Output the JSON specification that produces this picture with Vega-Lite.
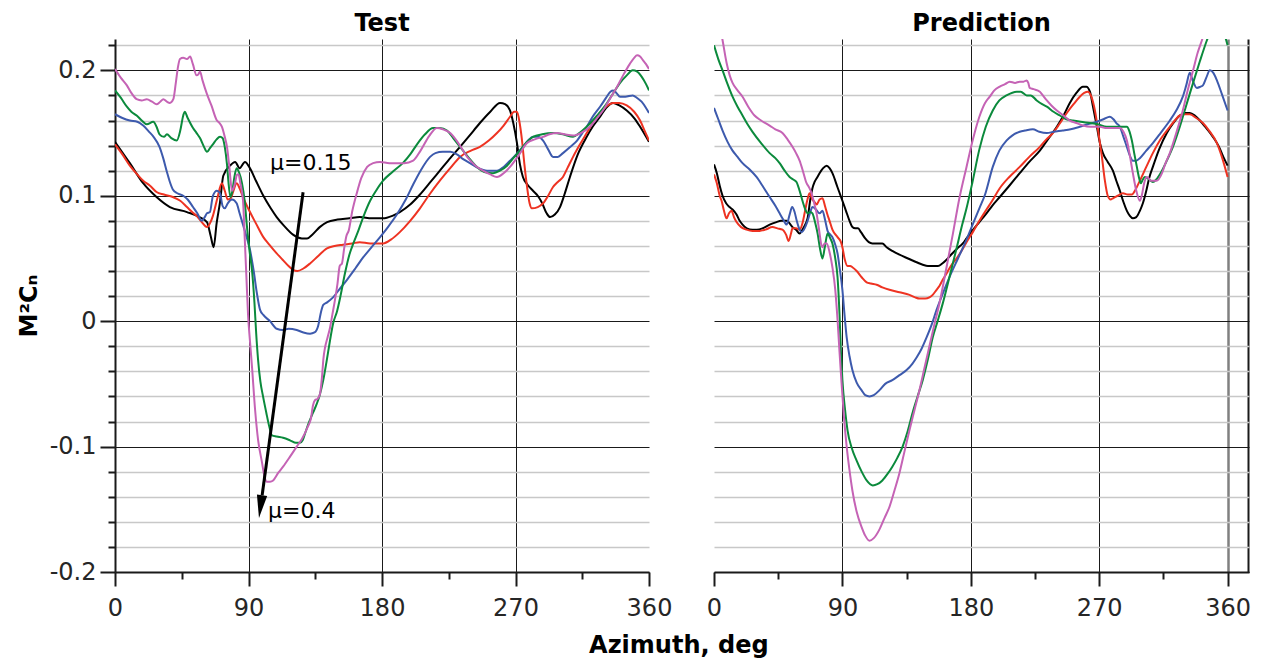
{
  "$schema": "https://vega.github.io/schema/vega-lite/v6.json",
  "padding": {"left": 17, "top": 12, "right": 10, "bottom": 4},
  "background": "white",
  "bounds": "flush",
  "spacing": 65,
  "config": {
    "font": "DejaVu Sans",
    "view": {"stroke": null},
    "axis": {"labelFont": "DejaVu Sans", "titleFont": "DejaVu Sans", "labelColor": "#262626", "labelFontSize": 24, "labelFontWeight": "normal", "tickColor": "#1a1a1a", "domainColor": "#1a1a1a", "tickWidth": 2, "domainWidth": 2, "labelOverlap": false, "labelBound": false},
    "title": {"font": "DejaVu Sans", "fontSize": 24, "fontWeight": "bold", "color": "black", "offset": 3, "frame": "group"}
  },
  "title": {"text": "Azimuth, deg", "orient": "bottom", "anchor": "middle", "offset": 14, "dx": 45, "frame": "bounds"},
  "datasets": {
    "test": [
      {"mu":"0.15","azimuth":0,"value":0.143},{"mu":"0.15","azimuth":10,"value":0.126},{"mu":"0.15","azimuth":19,"value":0.110},{"mu":"0.15","azimuth":28,"value":0.099},{"mu":"0.15","azimuth":37,"value":0.091},{"mu":"0.15","azimuth":48.5,"value":0.087},{"mu":"0.15","azimuth":57,"value":0.083},{"mu":"0.15","azimuth":62,"value":0.079},{"mu":"0.15","azimuth":64.5,"value":0.068},{"mu":"0.15","azimuth":66.5,"value":0.059},{"mu":"0.15","azimuth":68.5,"value":0.078},{"mu":"0.15","azimuth":70.8,"value":0.095},{"mu":"0.15","azimuth":73,"value":0.116},{"mu":"0.15","azimuth":77.5,"value":0.124},{"mu":"0.15","azimuth":81,"value":0.127},{"mu":"0.15","azimuth":84,"value":0.122},{"mu":"0.15","azimuth":87.6,"value":0.127},{"mu":"0.15","azimuth":91,"value":0.122},{"mu":"0.15","azimuth":95,"value":0.112},{"mu":"0.15","azimuth":100,"value":0.100},{"mu":"0.15","azimuth":105,"value":0.090},{"mu":"0.15","azimuth":109,"value":0.083},{"mu":"0.15","azimuth":114,"value":0.076},{"mu":"0.15","azimuth":120,"value":0.069},{"mu":"0.15","azimuth":126,"value":0.066},{"mu":"0.15","azimuth":129.5,"value":0.066},{"mu":"0.15","azimuth":133,"value":0.069},{"mu":"0.15","azimuth":138,"value":0.075},{"mu":"0.15","azimuth":143,"value":0.079},{"mu":"0.15","azimuth":150,"value":0.081},{"mu":"0.15","azimuth":158,"value":0.082},{"mu":"0.15","azimuth":165,"value":0.083},{"mu":"0.15","azimuth":173,"value":0.082},{"mu":"0.15","azimuth":180.7,"value":0.082},{"mu":"0.15","azimuth":187,"value":0.084},{"mu":"0.15","azimuth":192,"value":0.087},{"mu":"0.15","azimuth":199,"value":0.093},{"mu":"0.15","azimuth":205.6,"value":0.101},{"mu":"0.15","azimuth":212,"value":0.110},{"mu":"0.15","azimuth":219,"value":0.120},{"mu":"0.15","azimuth":226,"value":0.130},{"mu":"0.15","azimuth":232.6,"value":0.139},{"mu":"0.15","azimuth":239,"value":0.148},{"mu":"0.15","azimuth":246,"value":0.158},{"mu":"0.15","azimuth":253,"value":0.167},{"mu":"0.15","azimuth":259.6,"value":0.174},{"mu":"0.15","azimuth":263,"value":0.173},{"mu":"0.15","azimuth":266.3,"value":0.168},{"mu":"0.15","azimuth":268.5,"value":0.158},{"mu":"0.15","azimuth":271,"value":0.142},{"mu":"0.15","azimuth":273,"value":0.125},{"mu":"0.15","azimuth":275,"value":0.115},{"mu":"0.15","azimuth":278,"value":0.109},{"mu":"0.15","azimuth":281.8,"value":0.104},{"mu":"0.15","azimuth":285,"value":0.100},{"mu":"0.15","azimuth":288,"value":0.094},{"mu":"0.15","azimuth":291,"value":0.086},{"mu":"0.15","azimuth":293.3,"value":0.083},{"mu":"0.15","azimuth":296.5,"value":0.085},{"mu":"0.15","azimuth":300,"value":0.091},{"mu":"0.15","azimuth":303,"value":0.101},{"mu":"0.15","azimuth":306.7,"value":0.115},{"mu":"0.15","azimuth":312,"value":0.133},{"mu":"0.15","azimuth":318,"value":0.147},{"mu":"0.15","azimuth":322,"value":0.155},{"mu":"0.15","azimuth":327,"value":0.163},{"mu":"0.15","azimuth":331,"value":0.170},{"mu":"0.15","azimuth":335.8,"value":0.174},{"mu":"0.15","azimuth":340,"value":0.172},{"mu":"0.15","azimuth":345,"value":0.168},{"mu":"0.15","azimuth":350,"value":0.162},{"mu":"0.15","azimuth":354,"value":0.155},{"mu":"0.15","azimuth":360,"value":0.143},
      {"mu":"0.2","azimuth":0,"value":0.141},{"mu":"0.2","azimuth":5,"value":0.133},{"mu":"0.2","azimuth":10,"value":0.124},{"mu":"0.2","azimuth":15,"value":0.117},{"mu":"0.2","azimuth":19,"value":0.112},{"mu":"0.2","azimuth":23.6,"value":0.108},{"mu":"0.2","azimuth":28,"value":0.103},{"mu":"0.2","azimuth":33,"value":0.101},{"mu":"0.2","azimuth":39,"value":0.099},{"mu":"0.2","azimuth":44,"value":0.096},{"mu":"0.2","azimuth":48.5,"value":0.091},{"mu":"0.2","azimuth":52,"value":0.087},{"mu":"0.2","azimuth":55,"value":0.084},{"mu":"0.2","azimuth":58.5,"value":0.079},{"mu":"0.2","azimuth":62,"value":0.075},{"mu":"0.2","azimuth":64,"value":0.078},{"mu":"0.2","azimuth":66,"value":0.084},{"mu":"0.2","azimuth":69,"value":0.098},{"mu":"0.2","azimuth":72,"value":0.110},{"mu":"0.2","azimuth":74,"value":0.104},{"mu":"0.2","azimuth":76,"value":0.097},{"mu":"0.2","azimuth":78,"value":0.098},{"mu":"0.2","azimuth":79.6,"value":0.103},{"mu":"0.2","azimuth":82,"value":0.110},{"mu":"0.2","azimuth":84,"value":0.106},{"mu":"0.2","azimuth":86.3,"value":0.099},{"mu":"0.2","azimuth":91,"value":0.087},{"mu":"0.2","azimuth":95,"value":0.078},{"mu":"0.2","azimuth":100,"value":0.067},{"mu":"0.2","azimuth":104,"value":0.061},{"mu":"0.2","azimuth":109,"value":0.054},{"mu":"0.2","azimuth":113,"value":0.049},{"mu":"0.2","azimuth":117,"value":0.044},{"mu":"0.2","azimuth":120,"value":0.041},{"mu":"0.2","azimuth":123,"value":0.040},{"mu":"0.2","azimuth":127,"value":0.042},{"mu":"0.2","azimuth":131.5,"value":0.046},{"mu":"0.2","azimuth":137,"value":0.052},{"mu":"0.2","azimuth":142.9,"value":0.058},{"mu":"0.2","azimuth":148,"value":0.060},{"mu":"0.2","azimuth":153.7,"value":0.061},{"mu":"0.2","azimuth":160,"value":0.062},{"mu":"0.2","azimuth":165,"value":0.063},{"mu":"0.2","azimuth":172,"value":0.062},{"mu":"0.2","azimuth":180.7,"value":0.062},{"mu":"0.2","azimuth":186,"value":0.065},{"mu":"0.2","azimuth":192,"value":0.071},{"mu":"0.2","azimuth":199,"value":0.080},{"mu":"0.2","azimuth":205.6,"value":0.090},{"mu":"0.2","azimuth":212,"value":0.101},{"mu":"0.2","azimuth":219,"value":0.112},{"mu":"0.2","azimuth":226,"value":0.122},{"mu":"0.2","azimuth":232.6,"value":0.131},{"mu":"0.2","azimuth":240,"value":0.136},{"mu":"0.2","azimuth":246,"value":0.139},{"mu":"0.2","azimuth":252,"value":0.144},{"mu":"0.2","azimuth":257.5,"value":0.150},{"mu":"0.2","azimuth":262,"value":0.156},{"mu":"0.2","azimuth":266.3,"value":0.163},{"mu":"0.2","azimuth":269,"value":0.167},{"mu":"0.2","azimuth":271,"value":0.167},{"mu":"0.2","azimuth":272.8,"value":0.158},{"mu":"0.2","azimuth":274.4,"value":0.144},{"mu":"0.2","azimuth":276,"value":0.125},{"mu":"0.2","azimuth":277.8,"value":0.107},{"mu":"0.2","azimuth":279.5,"value":0.094},{"mu":"0.2","azimuth":281,"value":0.090},{"mu":"0.2","azimuth":285,"value":0.091},{"mu":"0.2","azimuth":288.6,"value":0.094},{"mu":"0.2","azimuth":292,"value":0.100},{"mu":"0.2","azimuth":295.3,"value":0.107},{"mu":"0.2","azimuth":298.5,"value":0.111},{"mu":"0.2","azimuth":302,"value":0.115},{"mu":"0.2","azimuth":305,"value":0.122},{"mu":"0.2","azimuth":308.8,"value":0.131},{"mu":"0.2","azimuth":313,"value":0.140},{"mu":"0.2","azimuth":318,"value":0.150},{"mu":"0.2","azimuth":322,"value":0.158},{"mu":"0.2","azimuth":327,"value":0.166},{"mu":"0.2","azimuth":331,"value":0.171},{"mu":"0.2","azimuth":335.8,"value":0.174},{"mu":"0.2","azimuth":340,"value":0.174},{"mu":"0.2","azimuth":345,"value":0.172},{"mu":"0.2","azimuth":350,"value":0.167},{"mu":"0.2","azimuth":354,"value":0.160},{"mu":"0.2","azimuth":357,"value":0.152},{"mu":"0.2","azimuth":360,"value":0.144},
      {"mu":"0.25","azimuth":0,"value":0.165},{"mu":"0.25","azimuth":5,"value":0.162},{"mu":"0.25","azimuth":10,"value":0.160},{"mu":"0.25","azimuth":15,"value":0.159},{"mu":"0.25","azimuth":19,"value":0.156},{"mu":"0.25","azimuth":23,"value":0.151},{"mu":"0.25","azimuth":26,"value":0.147},{"mu":"0.25","azimuth":30,"value":0.139},{"mu":"0.25","azimuth":32.5,"value":0.130},{"mu":"0.25","azimuth":35,"value":0.119},{"mu":"0.25","azimuth":37,"value":0.111},{"mu":"0.25","azimuth":39,"value":0.105},{"mu":"0.25","azimuth":42,"value":0.102},{"mu":"0.25","azimuth":46,"value":0.100},{"mu":"0.25","azimuth":49,"value":0.097},{"mu":"0.25","azimuth":52.6,"value":0.091},{"mu":"0.25","azimuth":55.5,"value":0.086},{"mu":"0.25","azimuth":58.5,"value":0.080},{"mu":"0.25","azimuth":60.5,"value":0.083},{"mu":"0.25","azimuth":62,"value":0.086},{"mu":"0.25","azimuth":64,"value":0.087},{"mu":"0.25","azimuth":66,"value":0.100},{"mu":"0.25","azimuth":68.7,"value":0.104},{"mu":"0.25","azimuth":70.8,"value":0.102},{"mu":"0.25","azimuth":72.5,"value":0.092},{"mu":"0.25","azimuth":74,"value":0.090},{"mu":"0.25","azimuth":76,"value":0.094},{"mu":"0.25","azimuth":78.9,"value":0.097},{"mu":"0.25","azimuth":82,"value":0.094},{"mu":"0.25","azimuth":84,"value":0.086},{"mu":"0.25","azimuth":86.3,"value":0.077},{"mu":"0.25","azimuth":88.5,"value":0.068},{"mu":"0.25","azimuth":91,"value":0.057},{"mu":"0.25","azimuth":93.5,"value":0.040},{"mu":"0.25","azimuth":95.7,"value":0.022},{"mu":"0.25","azimuth":97.8,"value":0.009},{"mu":"0.25","azimuth":100,"value":0.005},{"mu":"0.25","azimuth":104.5,"value":0.000},{"mu":"0.25","azimuth":109,"value":-0.006},{"mu":"0.25","azimuth":113.3,"value":-0.007},{"mu":"0.25","azimuth":117,"value":-0.006},{"mu":"0.25","azimuth":122.5,"value":-0.007},{"mu":"0.25","azimuth":127,"value":-0.009},{"mu":"0.25","azimuth":131.5,"value":-0.010},{"mu":"0.25","azimuth":134.5,"value":-0.009},{"mu":"0.25","azimuth":136.9,"value":-0.004},{"mu":"0.25","azimuth":139,"value":0.008},{"mu":"0.25","azimuth":140.4,"value":0.013},{"mu":"0.25","azimuth":143,"value":0.015},{"mu":"0.25","azimuth":147,"value":0.019},{"mu":"0.25","azimuth":151,"value":0.025},{"mu":"0.25","azimuth":156.4,"value":0.033},{"mu":"0.25","azimuth":162,"value":0.042},{"mu":"0.25","azimuth":167.4,"value":0.051},{"mu":"0.25","azimuth":173,"value":0.059},{"mu":"0.25","azimuth":178.7,"value":0.067},{"mu":"0.25","azimuth":184,"value":0.075},{"mu":"0.25","azimuth":190,"value":0.085},{"mu":"0.25","azimuth":196,"value":0.097},{"mu":"0.25","azimuth":201,"value":0.109},{"mu":"0.25","azimuth":206,"value":0.120},{"mu":"0.25","azimuth":212.4,"value":0.131},{"mu":"0.25","azimuth":216,"value":0.134},{"mu":"0.25","azimuth":221,"value":0.135},{"mu":"0.25","azimuth":226,"value":0.135},{"mu":"0.25","azimuth":230.5,"value":0.133},{"mu":"0.25","azimuth":235,"value":0.129},{"mu":"0.25","azimuth":239.3,"value":0.126},{"mu":"0.25","azimuth":245,"value":0.122},{"mu":"0.25","azimuth":250.8,"value":0.120},{"mu":"0.25","azimuth":257.5,"value":0.120},{"mu":"0.25","azimuth":262,"value":0.123},{"mu":"0.25","azimuth":266.3,"value":0.128},{"mu":"0.25","azimuth":270.5,"value":0.133},{"mu":"0.25","azimuth":275,"value":0.139},{"mu":"0.25","azimuth":278.5,"value":0.144},{"mu":"0.25","azimuth":281.8,"value":0.147},{"mu":"0.25","azimuth":285,"value":0.147},{"mu":"0.25","azimuth":288.6,"value":0.144},{"mu":"0.25","azimuth":292,"value":0.137},{"mu":"0.25","azimuth":295.3,"value":0.131},{"mu":"0.25","azimuth":298.5,"value":0.131},{"mu":"0.25","azimuth":302,"value":0.134},{"mu":"0.25","azimuth":307,"value":0.139},{"mu":"0.25","azimuth":311.5,"value":0.144},{"mu":"0.25","azimuth":315,"value":0.150},{"mu":"0.25","azimuth":318,"value":0.155},{"mu":"0.25","azimuth":322,"value":0.163},{"mu":"0.25","azimuth":327,"value":0.171},{"mu":"0.25","azimuth":331,"value":0.178},{"mu":"0.25","azimuth":334,"value":0.183},{"mu":"0.25","azimuth":335.8,"value":0.184},{"mu":"0.25","azimuth":338,"value":0.182},{"mu":"0.25","azimuth":340.5,"value":0.179},{"mu":"0.25","azimuth":344,"value":0.179},{"mu":"0.25","azimuth":349,"value":0.180},{"mu":"0.25","azimuth":352,"value":0.178},{"mu":"0.25","azimuth":355,"value":0.175},{"mu":"0.25","azimuth":358,"value":0.170},{"mu":"0.25","azimuth":360,"value":0.166},
      {"mu":"0.3","azimuth":0,"value":0.184},{"mu":"0.3","azimuth":4,"value":0.178},{"mu":"0.3","azimuth":8,"value":0.171},{"mu":"0.3","azimuth":11,"value":0.167},{"mu":"0.3","azimuth":14.6,"value":0.164},{"mu":"0.3","azimuth":18,"value":0.160},{"mu":"0.3","azimuth":21.4,"value":0.157},{"mu":"0.3","azimuth":25.8,"value":0.159},{"mu":"0.3","azimuth":28,"value":0.155},{"mu":"0.3","azimuth":30,"value":0.149},{"mu":"0.3","azimuth":33,"value":0.147},{"mu":"0.3","azimuth":35,"value":0.149},{"mu":"0.3","azimuth":38,"value":0.146},{"mu":"0.3","azimuth":41.6,"value":0.144},{"mu":"0.3","azimuth":44,"value":0.152},{"mu":"0.3","azimuth":46,"value":0.164},{"mu":"0.3","azimuth":47,"value":0.167},{"mu":"0.3","azimuth":49,"value":0.162},{"mu":"0.3","azimuth":52.6,"value":0.154},{"mu":"0.3","azimuth":55,"value":0.150},{"mu":"0.3","azimuth":57.3,"value":0.146},{"mu":"0.3","azimuth":60,"value":0.139},{"mu":"0.3","azimuth":62,"value":0.135},{"mu":"0.3","azimuth":64,"value":0.138},{"mu":"0.3","azimuth":66,"value":0.141},{"mu":"0.3","azimuth":68.5,"value":0.145},{"mu":"0.3","azimuth":70.8,"value":0.147},{"mu":"0.3","azimuth":72.5,"value":0.146},{"mu":"0.3","azimuth":74,"value":0.139},{"mu":"0.3","azimuth":75.5,"value":0.125},{"mu":"0.3","azimuth":76.4,"value":0.112},{"mu":"0.3","azimuth":77.8,"value":0.099},{"mu":"0.3","azimuth":79,"value":0.103},{"mu":"0.3","azimuth":80.5,"value":0.115},{"mu":"0.3","azimuth":82,"value":0.122},{"mu":"0.3","azimuth":83.5,"value":0.119},{"mu":"0.3","azimuth":85.6,"value":0.110},{"mu":"0.3","azimuth":87.5,"value":0.095},{"mu":"0.3","azimuth":89,"value":0.075},{"mu":"0.3","azimuth":90.8,"value":0.055},{"mu":"0.3","azimuth":92.4,"value":0.040},{"mu":"0.3","azimuth":94,"value":0.015},{"mu":"0.3","azimuth":95.2,"value":-0.010},{"mu":"0.3","azimuth":96.4,"value":-0.030},{"mu":"0.3","azimuth":98,"value":-0.048},{"mu":"0.3","azimuth":99.8,"value":-0.060},{"mu":"0.3","azimuth":102,"value":-0.073},{"mu":"0.3","azimuth":104,"value":-0.084},{"mu":"0.3","azimuth":105.8,"value":-0.091},{"mu":"0.3","azimuth":109,"value":-0.092},{"mu":"0.3","azimuth":113.3,"value":-0.093},{"mu":"0.3","azimuth":118,"value":-0.095},{"mu":"0.3","azimuth":122,"value":-0.097},{"mu":"0.3","azimuth":124.7,"value":-0.097},{"mu":"0.3","azimuth":126.5,"value":-0.095},{"mu":"0.3","azimuth":128,"value":-0.090},{"mu":"0.3","azimuth":130,"value":-0.083},{"mu":"0.3","azimuth":133.5,"value":-0.073},{"mu":"0.3","azimuth":136,"value":-0.066},{"mu":"0.3","azimuth":138,"value":-0.059},{"mu":"0.3","azimuth":140.4,"value":-0.047},{"mu":"0.3","azimuth":142.5,"value":-0.033},{"mu":"0.3","azimuth":145,"value":-0.015},{"mu":"0.3","azimuth":147,"value":-0.002},{"mu":"0.3","azimuth":149.7,"value":0.008},{"mu":"0.3","azimuth":152,"value":0.020},{"mu":"0.3","azimuth":155,"value":0.038},{"mu":"0.3","azimuth":158,"value":0.053},{"mu":"0.3","azimuth":161,"value":0.063},{"mu":"0.3","azimuth":164,"value":0.072},{"mu":"0.3","azimuth":168,"value":0.085},{"mu":"0.3","azimuth":172,"value":0.096},{"mu":"0.3","azimuth":176,"value":0.104},{"mu":"0.3","azimuth":180.7,"value":0.112},{"mu":"0.3","azimuth":187,"value":0.119},{"mu":"0.3","azimuth":194,"value":0.126},{"mu":"0.3","azimuth":199,"value":0.133},{"mu":"0.3","azimuth":203.6,"value":0.141},{"mu":"0.3","azimuth":209,"value":0.149},{"mu":"0.3","azimuth":214.4,"value":0.154},{"mu":"0.3","azimuth":219,"value":0.154},{"mu":"0.3","azimuth":223.8,"value":0.152},{"mu":"0.3","azimuth":228,"value":0.146},{"mu":"0.3","azimuth":232.6,"value":0.139},{"mu":"0.3","azimuth":238,"value":0.131},{"mu":"0.3","azimuth":244,"value":0.123},{"mu":"0.3","azimuth":249,"value":0.119},{"mu":"0.3","azimuth":254.9,"value":0.118},{"mu":"0.3","azimuth":259.5,"value":0.120},{"mu":"0.3","azimuth":264.3,"value":0.124},{"mu":"0.3","azimuth":268.5,"value":0.130},{"mu":"0.3","azimuth":273,"value":0.136},{"mu":"0.3","azimuth":277,"value":0.142},{"mu":"0.3","azimuth":281.8,"value":0.147},{"mu":"0.3","azimuth":288,"value":0.149},{"mu":"0.3","azimuth":295.3,"value":0.150},{"mu":"0.3","azimuth":302,"value":0.149},{"mu":"0.3","azimuth":308.8,"value":0.147},{"mu":"0.3","azimuth":313,"value":0.150},{"mu":"0.3","azimuth":318,"value":0.155},{"mu":"0.3","azimuth":325,"value":0.164},{"mu":"0.3","azimuth":331.7,"value":0.174},{"mu":"0.3","azimuth":336,"value":0.182},{"mu":"0.3","azimuth":340.5,"value":0.190},{"mu":"0.3","azimuth":345,"value":0.196},{"mu":"0.3","azimuth":349,"value":0.200},{"mu":"0.3","azimuth":352,"value":0.199},{"mu":"0.3","azimuth":355,"value":0.195},{"mu":"0.3","azimuth":358,"value":0.189},{"mu":"0.3","azimuth":360,"value":0.184},
      {"mu":"0.4","azimuth":0,"value":0.201},{"mu":"0.4","azimuth":4,"value":0.194},{"mu":"0.4","azimuth":8,"value":0.188},{"mu":"0.4","azimuth":11,"value":0.182},{"mu":"0.4","azimuth":14.6,"value":0.177},{"mu":"0.4","azimuth":18,"value":0.176},{"mu":"0.4","azimuth":21.4,"value":0.177},{"mu":"0.4","azimuth":25,"value":0.175},{"mu":"0.4","azimuth":28,"value":0.173},{"mu":"0.4","azimuth":30.5,"value":0.175},{"mu":"0.4","azimuth":32.6,"value":0.177},{"mu":"0.4","azimuth":35,"value":0.175},{"mu":"0.4","azimuth":37,"value":0.174},{"mu":"0.4","azimuth":39.3,"value":0.177},{"mu":"0.4","azimuth":41,"value":0.190},{"mu":"0.4","azimuth":42.5,"value":0.203},{"mu":"0.4","azimuth":43.8,"value":0.209},{"mu":"0.4","azimuth":46,"value":0.210},{"mu":"0.4","azimuth":48.5,"value":0.209},{"mu":"0.4","azimuth":50.6,"value":0.211},{"mu":"0.4","azimuth":52.5,"value":0.205},{"mu":"0.4","azimuth":55,"value":0.196},{"mu":"0.4","azimuth":56.3,"value":0.197},{"mu":"0.4","azimuth":57.3,"value":0.199},{"mu":"0.4","azimuth":59,"value":0.192},{"mu":"0.4","azimuth":62,"value":0.181},{"mu":"0.4","azimuth":65,"value":0.172},{"mu":"0.4","azimuth":68.7,"value":0.160},{"mu":"0.4","azimuth":70.5,"value":0.158},{"mu":"0.4","azimuth":72.1,"value":0.155},{"mu":"0.4","azimuth":74,"value":0.147},{"mu":"0.4","azimuth":75.5,"value":0.139},{"mu":"0.4","azimuth":77,"value":0.124},{"mu":"0.4","azimuth":78.9,"value":0.104},{"mu":"0.4","azimuth":80.9,"value":0.110},{"mu":"0.4","azimuth":82.3,"value":0.117},{"mu":"0.4","azimuth":83.3,"value":0.117},{"mu":"0.4","azimuth":84.5,"value":0.110},{"mu":"0.4","azimuth":86.3,"value":0.096},{"mu":"0.4","azimuth":87.5,"value":0.065},{"mu":"0.4","azimuth":88.6,"value":0.035},{"mu":"0.4","azimuth":89.7,"value":0.005},{"mu":"0.4","azimuth":91,"value":-0.016},{"mu":"0.4","azimuth":92.4,"value":-0.037},{"mu":"0.4","azimuth":94.4,"value":-0.070},{"mu":"0.4","azimuth":96.5,"value":-0.095},{"mu":"0.4","azimuth":99,"value":-0.112},{"mu":"0.4","azimuth":100.8,"value":-0.124},{"mu":"0.4","azimuth":102.4,"value":-0.128},{"mu":"0.4","azimuth":104.5,"value":-0.128},{"mu":"0.4","azimuth":106.6,"value":-0.127},{"mu":"0.4","azimuth":110,"value":-0.121},{"mu":"0.4","azimuth":113.3,"value":-0.116},{"mu":"0.4","azimuth":118,"value":-0.108},{"mu":"0.4","azimuth":122.5,"value":-0.100},{"mu":"0.4","azimuth":126,"value":-0.094},{"mu":"0.4","azimuth":130,"value":-0.084},{"mu":"0.4","azimuth":132,"value":-0.078},{"mu":"0.4","azimuth":133.5,"value":-0.067},{"mu":"0.4","azimuth":134.8,"value":-0.063},{"mu":"0.4","azimuth":136.5,"value":-0.062},{"mu":"0.4","azimuth":138.2,"value":-0.058},{"mu":"0.4","azimuth":139.5,"value":-0.045},{"mu":"0.4","azimuth":140.5,"value":-0.030},{"mu":"0.4","azimuth":141.6,"value":-0.021},{"mu":"0.4","azimuth":143.3,"value":-0.013},{"mu":"0.4","azimuth":145,"value":-0.005},{"mu":"0.4","azimuth":146.5,"value":0.005},{"mu":"0.4","azimuth":148.3,"value":0.017},{"mu":"0.4","azimuth":150,"value":0.030},{"mu":"0.4","azimuth":151.5,"value":0.044},{"mu":"0.4","azimuth":153,"value":0.046},{"mu":"0.4","azimuth":154.5,"value":0.058},{"mu":"0.4","azimuth":156,"value":0.068},{"mu":"0.4","azimuth":157.5,"value":0.072},{"mu":"0.4","azimuth":160,"value":0.088},{"mu":"0.4","azimuth":163,"value":0.102},{"mu":"0.4","azimuth":166,"value":0.114},{"mu":"0.4","azimuth":170,"value":0.123},{"mu":"0.4","azimuth":174,"value":0.126},{"mu":"0.4","azimuth":178.7,"value":0.127},{"mu":"0.4","azimuth":185,"value":0.126},{"mu":"0.4","azimuth":190,"value":0.126},{"mu":"0.4","azimuth":195,"value":0.126},{"mu":"0.4","azimuth":201,"value":0.128},{"mu":"0.4","azimuth":206,"value":0.136},{"mu":"0.4","azimuth":212,"value":0.148},{"mu":"0.4","azimuth":217,"value":0.154},{"mu":"0.4","azimuth":221,"value":0.153},{"mu":"0.4","azimuth":226,"value":0.150},{"mu":"0.4","azimuth":232,"value":0.141},{"mu":"0.4","azimuth":237.4,"value":0.131},{"mu":"0.4","azimuth":243,"value":0.124},{"mu":"0.4","azimuth":248.1,"value":0.120},{"mu":"0.4","azimuth":253,"value":0.117},{"mu":"0.4","azimuth":257.5,"value":0.115},{"mu":"0.4","azimuth":262,"value":0.118},{"mu":"0.4","azimuth":266.3,"value":0.123},{"mu":"0.4","azimuth":272,"value":0.132},{"mu":"0.4","azimuth":277.8,"value":0.142},{"mu":"0.4","azimuth":283,"value":0.145},{"mu":"0.4","azimuth":288.6,"value":0.147},{"mu":"0.4","azimuth":293,"value":0.149},{"mu":"0.4","azimuth":298,"value":0.150},{"mu":"0.4","azimuth":303,"value":0.149},{"mu":"0.4","azimuth":308.8,"value":0.148},{"mu":"0.4","azimuth":314,"value":0.150},{"mu":"0.4","azimuth":320.2,"value":0.155},{"mu":"0.4","azimuth":325,"value":0.162},{"mu":"0.4","azimuth":329,"value":0.168},{"mu":"0.4","azimuth":334,"value":0.178},{"mu":"0.4","azimuth":338.5,"value":0.187},{"mu":"0.4","azimuth":343,"value":0.197},{"mu":"0.4","azimuth":347,"value":0.205},{"mu":"0.4","azimuth":350,"value":0.210},{"mu":"0.4","azimuth":352,"value":0.212},{"mu":"0.4","azimuth":354,"value":0.211},{"mu":"0.4","azimuth":356,"value":0.208},{"mu":"0.4","azimuth":358,"value":0.205},{"mu":"0.4","azimuth":360,"value":0.201}
    ],
    "prediction": [
      {"mu":"0.15","azimuth":0,"value":0.125},{"mu":"0.15","azimuth":2,"value":0.118},{"mu":"0.15","azimuth":4,"value":0.108},{"mu":"0.15","azimuth":6,"value":0.100},{"mu":"0.15","azimuth":8.5,"value":0.094},{"mu":"0.15","azimuth":10.9,"value":0.091},{"mu":"0.15","azimuth":13,"value":0.089},{"mu":"0.15","azimuth":15.8,"value":0.085},{"mu":"0.15","azimuth":18,"value":0.080},{"mu":"0.15","azimuth":20,"value":0.077},{"mu":"0.15","azimuth":23,"value":0.074},{"mu":"0.15","azimuth":27,"value":0.073},{"mu":"0.15","azimuth":30,"value":0.073},{"mu":"0.15","azimuth":34,"value":0.074},{"mu":"0.15","azimuth":39,"value":0.077},{"mu":"0.15","azimuth":43.8,"value":0.079},{"mu":"0.15","azimuth":47,"value":0.080},{"mu":"0.15","azimuth":50.9,"value":0.080},{"mu":"0.15","azimuth":53,"value":0.078},{"mu":"0.15","azimuth":55,"value":0.075},{"mu":"0.15","azimuth":57.5,"value":0.073},{"mu":"0.15","azimuth":60,"value":0.070},{"mu":"0.15","azimuth":62.5,"value":0.074},{"mu":"0.15","azimuth":65.6,"value":0.082},{"mu":"0.15","azimuth":67.5,"value":0.097},{"mu":"0.15","azimuth":69,"value":0.106},{"mu":"0.15","azimuth":70.5,"value":0.111},{"mu":"0.15","azimuth":72.5,"value":0.115},{"mu":"0.15","azimuth":74,"value":0.118},{"mu":"0.15","azimuth":76.5,"value":0.122},{"mu":"0.15","azimuth":79,"value":0.124},{"mu":"0.15","azimuth":81,"value":0.122},{"mu":"0.15","azimuth":83,"value":0.118},{"mu":"0.15","azimuth":86.5,"value":0.107},{"mu":"0.15","azimuth":90,"value":0.096},{"mu":"0.15","azimuth":92.5,"value":0.088},{"mu":"0.15","azimuth":95,"value":0.080},{"mu":"0.15","azimuth":97,"value":0.075},{"mu":"0.15","azimuth":99,"value":0.074},{"mu":"0.15","azimuth":101,"value":0.074},{"mu":"0.15","azimuth":103,"value":0.071},{"mu":"0.15","azimuth":106,"value":0.066},{"mu":"0.15","azimuth":108.5,"value":0.063},{"mu":"0.15","azimuth":111,"value":0.062},{"mu":"0.15","azimuth":115,"value":0.062},{"mu":"0.15","azimuth":118,"value":0.062},{"mu":"0.15","azimuth":121,"value":0.059},{"mu":"0.15","azimuth":125,"value":0.056},{"mu":"0.15","azimuth":130,"value":0.053},{"mu":"0.15","azimuth":136,"value":0.050},{"mu":"0.15","azimuth":142,"value":0.047},{"mu":"0.15","azimuth":146.3,"value":0.045},{"mu":"0.15","azimuth":150,"value":0.044},{"mu":"0.15","azimuth":154,"value":0.044},{"mu":"0.15","azimuth":157,"value":0.044},{"mu":"0.15","azimuth":160,"value":0.046},{"mu":"0.15","azimuth":163,"value":0.049},{"mu":"0.15","azimuth":167,"value":0.054},{"mu":"0.15","azimuth":170.5,"value":0.058},{"mu":"0.15","azimuth":174.4,"value":0.062},{"mu":"0.15","azimuth":177,"value":0.066},{"mu":"0.15","azimuth":181,"value":0.072},{"mu":"0.15","azimuth":186,"value":0.079},{"mu":"0.15","azimuth":191,"value":0.086},{"mu":"0.15","azimuth":195,"value":0.092},{"mu":"0.15","azimuth":200.3,"value":0.099},{"mu":"0.15","azimuth":207,"value":0.108},{"mu":"0.15","azimuth":214.3,"value":0.118},{"mu":"0.15","azimuth":221,"value":0.127},{"mu":"0.15","azimuth":228.4,"value":0.136},{"mu":"0.15","azimuth":234,"value":0.145},{"mu":"0.15","azimuth":240.3,"value":0.155},{"mu":"0.15","azimuth":245,"value":0.164},{"mu":"0.15","azimuth":249.4,"value":0.174},{"mu":"0.15","azimuth":254,"value":0.182},{"mu":"0.15","azimuth":258.6,"value":0.187},{"mu":"0.15","azimuth":261,"value":0.187},{"mu":"0.15","azimuth":263.5,"value":0.183},{"mu":"0.15","azimuth":265.5,"value":0.172},{"mu":"0.15","azimuth":268.4,"value":0.155},{"mu":"0.15","azimuth":270.5,"value":0.142},{"mu":"0.15","azimuth":272.6,"value":0.134},{"mu":"0.15","azimuth":276,"value":0.127},{"mu":"0.15","azimuth":279.6,"value":0.120},{"mu":"0.15","azimuth":282,"value":0.112},{"mu":"0.15","azimuth":284.5,"value":0.104},{"mu":"0.15","azimuth":287,"value":0.095},{"mu":"0.15","azimuth":289.4,"value":0.088},{"mu":"0.15","azimuth":291.5,"value":0.084},{"mu":"0.15","azimuth":293.6,"value":0.082},{"mu":"0.15","azimuth":296,"value":0.083},{"mu":"0.15","azimuth":298.5,"value":0.088},{"mu":"0.15","azimuth":300.6,"value":0.094},{"mu":"0.15","azimuth":303,"value":0.104},{"mu":"0.15","azimuth":305,"value":0.114},{"mu":"0.15","azimuth":307.6,"value":0.123},{"mu":"0.15","azimuth":312,"value":0.137},{"mu":"0.15","azimuth":317.4,"value":0.150},{"mu":"0.15","azimuth":322,"value":0.158},{"mu":"0.15","azimuth":326.5,"value":0.164},{"mu":"0.15","azimuth":330,"value":0.166},{"mu":"0.15","azimuth":333.5,"value":0.166},{"mu":"0.15","azimuth":337,"value":0.164},{"mu":"0.15","azimuth":340.6,"value":0.160},{"mu":"0.15","azimuth":345,"value":0.154},{"mu":"0.15","azimuth":349.7,"value":0.147},{"mu":"0.15","azimuth":354,"value":0.139},{"mu":"0.15","azimuth":357,"value":0.131},{"mu":"0.15","azimuth":360,"value":0.124},
      {"mu":"0.2","azimuth":0,"value":0.117},{"mu":"0.2","azimuth":2,"value":0.110},{"mu":"0.2","azimuth":4,"value":0.100},{"mu":"0.2","azimuth":5.3,"value":0.096},{"mu":"0.2","azimuth":7,"value":0.088},{"mu":"0.2","azimuth":8.8,"value":0.082},{"mu":"0.2","azimuth":10.5,"value":0.086},{"mu":"0.2","azimuth":12.3,"value":0.088},{"mu":"0.2","azimuth":14,"value":0.083},{"mu":"0.2","azimuth":15.8,"value":0.079},{"mu":"0.2","azimuth":19,"value":0.075},{"mu":"0.2","azimuth":22.8,"value":0.073},{"mu":"0.2","azimuth":27,"value":0.072},{"mu":"0.2","azimuth":31.9,"value":0.072},{"mu":"0.2","azimuth":36,"value":0.073},{"mu":"0.2","azimuth":41,"value":0.075},{"mu":"0.2","azimuth":44.5,"value":0.074},{"mu":"0.2","azimuth":48,"value":0.073},{"mu":"0.2","azimuth":50.5,"value":0.069},{"mu":"0.2","azimuth":52.3,"value":0.064},{"mu":"0.2","azimuth":54,"value":0.070},{"mu":"0.2","azimuth":55,"value":0.074},{"mu":"0.2","azimuth":57.5,"value":0.074},{"mu":"0.2","azimuth":60,"value":0.073},{"mu":"0.2","azimuth":62,"value":0.078},{"mu":"0.2","azimuth":63.5,"value":0.086},{"mu":"0.2","azimuth":65.5,"value":0.097},{"mu":"0.2","azimuth":67,"value":0.102},{"mu":"0.2","azimuth":69,"value":0.097},{"mu":"0.2","azimuth":70.5,"value":0.095},{"mu":"0.2","azimuth":72,"value":0.093},{"mu":"0.2","azimuth":74,"value":0.097},{"mu":"0.2","azimuth":76,"value":0.098},{"mu":"0.2","azimuth":78,"value":0.091},{"mu":"0.2","azimuth":79.5,"value":0.085},{"mu":"0.2","azimuth":81,"value":0.080},{"mu":"0.2","azimuth":83,"value":0.073},{"mu":"0.2","azimuth":86.6,"value":0.067},{"mu":"0.2","azimuth":89,"value":0.063},{"mu":"0.2","azimuth":90,"value":0.059},{"mu":"0.2","azimuth":91.5,"value":0.050},{"mu":"0.2","azimuth":93.6,"value":0.044},{"mu":"0.2","azimuth":95.5,"value":0.044},{"mu":"0.2","azimuth":97,"value":0.043},{"mu":"0.2","azimuth":100,"value":0.040},{"mu":"0.2","azimuth":103.5,"value":0.035},{"mu":"0.2","azimuth":107,"value":0.031},{"mu":"0.2","azimuth":110,"value":0.030},{"mu":"0.2","azimuth":114,"value":0.029},{"mu":"0.2","azimuth":118,"value":0.027},{"mu":"0.2","azimuth":123,"value":0.025},{"mu":"0.2","azimuth":130,"value":0.023},{"mu":"0.2","azimuth":137,"value":0.021},{"mu":"0.2","azimuth":141,"value":0.019},{"mu":"0.2","azimuth":144,"value":0.018},{"mu":"0.2","azimuth":148,"value":0.018},{"mu":"0.2","azimuth":151,"value":0.019},{"mu":"0.2","azimuth":153.3,"value":0.021},{"mu":"0.2","azimuth":156,"value":0.025},{"mu":"0.2","azimuth":158,"value":0.028},{"mu":"0.2","azimuth":160.3,"value":0.033},{"mu":"0.2","azimuth":163,"value":0.038},{"mu":"0.2","azimuth":166,"value":0.044},{"mu":"0.2","azimuth":170,"value":0.050},{"mu":"0.2","azimuth":174,"value":0.057},{"mu":"0.2","azimuth":177,"value":0.063},{"mu":"0.2","azimuth":181.4,"value":0.071},{"mu":"0.2","azimuth":186,"value":0.080},{"mu":"0.2","azimuth":191,"value":0.089},{"mu":"0.2","azimuth":195,"value":0.096},{"mu":"0.2","azimuth":200.3,"value":0.106},{"mu":"0.2","azimuth":207,"value":0.115},{"mu":"0.2","azimuth":214.3,"value":0.123},{"mu":"0.2","azimuth":221,"value":0.131},{"mu":"0.2","azimuth":228.4,"value":0.139},{"mu":"0.2","azimuth":233,"value":0.145},{"mu":"0.2","azimuth":237.5,"value":0.150},{"mu":"0.2","azimuth":242,"value":0.157},{"mu":"0.2","azimuth":247.3,"value":0.166},{"mu":"0.2","azimuth":252,"value":0.173},{"mu":"0.2","azimuth":256.4,"value":0.179},{"mu":"0.2","azimuth":259.5,"value":0.182},{"mu":"0.2","azimuth":262,"value":0.183},{"mu":"0.2","azimuth":264.5,"value":0.179},{"mu":"0.2","azimuth":267,"value":0.168},{"mu":"0.2","azimuth":269.5,"value":0.150},{"mu":"0.2","azimuth":271.9,"value":0.131},{"mu":"0.2","azimuth":274,"value":0.112},{"mu":"0.2","azimuth":276,"value":0.100},{"mu":"0.2","azimuth":278,"value":0.097},{"mu":"0.2","azimuth":279.6,"value":0.098},{"mu":"0.2","azimuth":283,"value":0.100},{"mu":"0.2","azimuth":286.6,"value":0.102},{"mu":"0.2","azimuth":290,"value":0.101},{"mu":"0.2","azimuth":292.9,"value":0.101},{"mu":"0.2","azimuth":295.5,"value":0.105},{"mu":"0.2","azimuth":298.5,"value":0.112},{"mu":"0.2","azimuth":303,"value":0.123},{"mu":"0.2","azimuth":307.6,"value":0.134},{"mu":"0.2","azimuth":313,"value":0.145},{"mu":"0.2","azimuth":319.5,"value":0.155},{"mu":"0.2","azimuth":323,"value":0.160},{"mu":"0.2","azimuth":326.5,"value":0.164},{"mu":"0.2","azimuth":330,"value":0.165},{"mu":"0.2","azimuth":333.5,"value":0.165},{"mu":"0.2","azimuth":338,"value":0.162},{"mu":"0.2","azimuth":342.7,"value":0.158},{"mu":"0.2","azimuth":347,"value":0.152},{"mu":"0.2","azimuth":352.5,"value":0.142},{"mu":"0.2","azimuth":356,"value":0.131},{"mu":"0.2","azimuth":360,"value":0.115},
      {"mu":"0.25","azimuth":0,"value":0.170},{"mu":"0.25","azimuth":3,"value":0.161},{"mu":"0.25","azimuth":6,"value":0.152},{"mu":"0.25","azimuth":9.5,"value":0.143},{"mu":"0.25","azimuth":13,"value":0.136},{"mu":"0.25","azimuth":16.5,"value":0.131},{"mu":"0.25","azimuth":20,"value":0.126},{"mu":"0.25","azimuth":25,"value":0.121},{"mu":"0.25","azimuth":29.8,"value":0.115},{"mu":"0.25","azimuth":34.5,"value":0.107},{"mu":"0.25","azimuth":39,"value":0.099},{"mu":"0.25","azimuth":43,"value":0.092},{"mu":"0.25","azimuth":46,"value":0.086},{"mu":"0.25","azimuth":48.5,"value":0.081},{"mu":"0.25","azimuth":50.9,"value":0.077},{"mu":"0.25","azimuth":53,"value":0.085},{"mu":"0.25","azimuth":54.8,"value":0.091},{"mu":"0.25","azimuth":56.5,"value":0.087},{"mu":"0.25","azimuth":58,"value":0.080},{"mu":"0.25","azimuth":60,"value":0.073},{"mu":"0.25","azimuth":61.4,"value":0.071},{"mu":"0.25","azimuth":63.5,"value":0.074},{"mu":"0.25","azimuth":65.6,"value":0.080},{"mu":"0.25","azimuth":67.5,"value":0.087},{"mu":"0.25","azimuth":69,"value":0.091},{"mu":"0.25","azimuth":71.5,"value":0.089},{"mu":"0.25","azimuth":74,"value":0.086},{"mu":"0.25","azimuth":76,"value":0.088},{"mu":"0.25","azimuth":78,"value":0.080},{"mu":"0.25","azimuth":79.6,"value":0.072},{"mu":"0.25","azimuth":81.5,"value":0.069},{"mu":"0.25","azimuth":83,"value":0.067},{"mu":"0.25","azimuth":85,"value":0.061},{"mu":"0.25","azimuth":86.6,"value":0.054},{"mu":"0.25","azimuth":88,"value":0.043},{"mu":"0.25","azimuth":90,"value":0.025},{"mu":"0.25","azimuth":91.5,"value":0.005},{"mu":"0.25","azimuth":93,"value":-0.013},{"mu":"0.25","azimuth":95,"value":-0.028},{"mu":"0.25","azimuth":97,"value":-0.039},{"mu":"0.25","azimuth":100,"value":-0.049},{"mu":"0.25","azimuth":103.4,"value":-0.055},{"mu":"0.25","azimuth":106,"value":-0.059},{"mu":"0.25","azimuth":109,"value":-0.060},{"mu":"0.25","azimuth":112,"value":-0.059},{"mu":"0.25","azimuth":116,"value":-0.055},{"mu":"0.25","azimuth":120,"value":-0.050},{"mu":"0.25","azimuth":125,"value":-0.047},{"mu":"0.25","azimuth":130,"value":-0.043},{"mu":"0.25","azimuth":135,"value":-0.039},{"mu":"0.25","azimuth":139,"value":-0.034},{"mu":"0.25","azimuth":142,"value":-0.029},{"mu":"0.25","azimuth":145.5,"value":-0.022},{"mu":"0.25","azimuth":149,"value":-0.013},{"mu":"0.25","azimuth":152.5,"value":-0.003},{"mu":"0.25","azimuth":156,"value":0.009},{"mu":"0.25","azimuth":160,"value":0.021},{"mu":"0.25","azimuth":165,"value":0.035},{"mu":"0.25","azimuth":171,"value":0.050},{"mu":"0.25","azimuth":177,"value":0.065},{"mu":"0.25","azimuth":182,"value":0.079},{"mu":"0.25","azimuth":186,"value":0.090},{"mu":"0.25","azimuth":190,"value":0.101},{"mu":"0.25","azimuth":195.4,"value":0.123},{"mu":"0.25","azimuth":200,"value":0.136},{"mu":"0.25","azimuth":205,"value":0.144},{"mu":"0.25","azimuth":209,"value":0.148},{"mu":"0.25","azimuth":214.3,"value":0.151},{"mu":"0.25","azimuth":218,"value":0.152},{"mu":"0.25","azimuth":223.5,"value":0.153},{"mu":"0.25","azimuth":228,"value":0.151},{"mu":"0.25","azimuth":233.3,"value":0.150},{"mu":"0.25","azimuth":238,"value":0.151},{"mu":"0.25","azimuth":244.5,"value":0.152},{"mu":"0.25","azimuth":250,"value":0.153},{"mu":"0.25","azimuth":256.4,"value":0.155},{"mu":"0.25","azimuth":262,"value":0.157},{"mu":"0.25","azimuth":268.4,"value":0.159},{"mu":"0.25","azimuth":273,"value":0.161},{"mu":"0.25","azimuth":277.5,"value":0.163},{"mu":"0.25","azimuth":280,"value":0.161},{"mu":"0.25","azimuth":282,"value":0.158},{"mu":"0.25","azimuth":284.5,"value":0.155},{"mu":"0.25","azimuth":287,"value":0.147},{"mu":"0.25","azimuth":289.4,"value":0.139},{"mu":"0.25","azimuth":291.5,"value":0.132},{"mu":"0.25","azimuth":293.6,"value":0.128},{"mu":"0.25","azimuth":296,"value":0.128},{"mu":"0.25","azimuth":298.5,"value":0.130},{"mu":"0.25","azimuth":303,"value":0.136},{"mu":"0.25","azimuth":307.6,"value":0.142},{"mu":"0.25","azimuth":313,"value":0.150},{"mu":"0.25","azimuth":319.5,"value":0.160},{"mu":"0.25","azimuth":324,"value":0.168},{"mu":"0.25","azimuth":328.6,"value":0.179},{"mu":"0.25","azimuth":331,"value":0.188},{"mu":"0.25","azimuth":333.5,"value":0.198},{"mu":"0.25","azimuth":335.5,"value":0.192},{"mu":"0.25","azimuth":338.5,"value":0.186},{"mu":"0.25","azimuth":341,"value":0.187},{"mu":"0.25","azimuth":342.7,"value":0.188},{"mu":"0.25","azimuth":345,"value":0.194},{"mu":"0.25","azimuth":347.6,"value":0.200},{"mu":"0.25","azimuth":350,"value":0.198},{"mu":"0.25","azimuth":352.5,"value":0.192},{"mu":"0.25","azimuth":356,"value":0.181},{"mu":"0.25","azimuth":360,"value":0.168},
      {"mu":"0.3","azimuth":0,"value":0.220},{"mu":"0.3","azimuth":3,"value":0.209},{"mu":"0.3","azimuth":6,"value":0.200},{"mu":"0.3","azimuth":9.5,"value":0.189},{"mu":"0.3","azimuth":13,"value":0.179},{"mu":"0.3","azimuth":16.5,"value":0.171},{"mu":"0.3","azimuth":20,"value":0.164},{"mu":"0.3","azimuth":23.5,"value":0.157},{"mu":"0.3","azimuth":27,"value":0.151},{"mu":"0.3","azimuth":33,"value":0.142},{"mu":"0.3","azimuth":39,"value":0.134},{"mu":"0.3","azimuth":43,"value":0.130},{"mu":"0.3","azimuth":46,"value":0.126},{"mu":"0.3","azimuth":49.5,"value":0.120},{"mu":"0.3","azimuth":53,"value":0.115},{"mu":"0.3","azimuth":55.5,"value":0.113},{"mu":"0.3","azimuth":57.8,"value":0.111},{"mu":"0.3","azimuth":60,"value":0.104},{"mu":"0.3","azimuth":62,"value":0.096},{"mu":"0.3","azimuth":64,"value":0.089},{"mu":"0.3","azimuth":65.6,"value":0.086},{"mu":"0.3","azimuth":67.5,"value":0.087},{"mu":"0.3","azimuth":69,"value":0.086},{"mu":"0.3","azimuth":70.8,"value":0.079},{"mu":"0.3","azimuth":72.6,"value":0.070},{"mu":"0.3","azimuth":74.3,"value":0.058},{"mu":"0.3","azimuth":76,"value":0.050},{"mu":"0.3","azimuth":77.8,"value":0.060},{"mu":"0.3","azimuth":79.6,"value":0.070},{"mu":"0.3","azimuth":81.5,"value":0.066},{"mu":"0.3","azimuth":83,"value":0.062},{"mu":"0.3","azimuth":85,"value":0.050},{"mu":"0.3","azimuth":86.6,"value":0.035},{"mu":"0.3","azimuth":88,"value":0.005},{"mu":"0.3","azimuth":89,"value":-0.025},{"mu":"0.3","azimuth":90,"value":-0.047},{"mu":"0.3","azimuth":91.8,"value":-0.070},{"mu":"0.3","azimuth":93.6,"value":-0.087},{"mu":"0.3","azimuth":96.5,"value":-0.101},{"mu":"0.3","azimuth":99.9,"value":-0.111},{"mu":"0.3","azimuth":103.5,"value":-0.120},{"mu":"0.3","azimuth":107,"value":-0.127},{"mu":"0.3","azimuth":111.3,"value":-0.131},{"mu":"0.3","azimuth":114.5,"value":-0.130},{"mu":"0.3","azimuth":118,"value":-0.127},{"mu":"0.3","azimuth":121.5,"value":-0.122},{"mu":"0.3","azimuth":125,"value":-0.116},{"mu":"0.3","azimuth":128.5,"value":-0.109},{"mu":"0.3","azimuth":132.2,"value":-0.100},{"mu":"0.3","azimuth":135.7,"value":-0.088},{"mu":"0.3","azimuth":139.2,"value":-0.073},{"mu":"0.3","azimuth":142.7,"value":-0.060},{"mu":"0.3","azimuth":146.3,"value":-0.047},{"mu":"0.3","azimuth":150,"value":-0.030},{"mu":"0.3","azimuth":153.3,"value":-0.013},{"mu":"0.3","azimuth":157,"value":0.001},{"mu":"0.3","azimuth":160.3,"value":0.014},{"mu":"0.3","azimuth":165,"value":0.035},{"mu":"0.3","azimuth":170,"value":0.058},{"mu":"0.3","azimuth":174,"value":0.077},{"mu":"0.3","azimuth":177,"value":0.090},{"mu":"0.3","azimuth":181,"value":0.110},{"mu":"0.3","azimuth":186,"value":0.137},{"mu":"0.3","azimuth":190.5,"value":0.155},{"mu":"0.3","azimuth":195.4,"value":0.168},{"mu":"0.3","azimuth":200,"value":0.176},{"mu":"0.3","azimuth":205,"value":0.180},{"mu":"0.3","azimuth":212.2,"value":0.183},{"mu":"0.3","azimuth":215,"value":0.183},{"mu":"0.3","azimuth":219.2,"value":0.180},{"mu":"0.3","azimuth":222,"value":0.180},{"mu":"0.3","azimuth":226.2,"value":0.176},{"mu":"0.3","azimuth":230,"value":0.173},{"mu":"0.3","azimuth":233.3,"value":0.171},{"mu":"0.3","azimuth":238,"value":0.167},{"mu":"0.3","azimuth":242.4,"value":0.164},{"mu":"0.3","azimuth":247,"value":0.161},{"mu":"0.3","azimuth":251.5,"value":0.160},{"mu":"0.3","azimuth":257,"value":0.159},{"mu":"0.3","azimuth":263.5,"value":0.158},{"mu":"0.3","azimuth":269,"value":0.157},{"mu":"0.3","azimuth":275.3,"value":0.155},{"mu":"0.3","azimuth":280,"value":0.155},{"mu":"0.3","azimuth":284.5,"value":0.155},{"mu":"0.3","azimuth":287,"value":0.155},{"mu":"0.3","azimuth":289.4,"value":0.155},{"mu":"0.3","azimuth":291,"value":0.152},{"mu":"0.3","azimuth":292.9,"value":0.144},{"mu":"0.3","azimuth":294.7,"value":0.133},{"mu":"0.3","azimuth":296.4,"value":0.123},{"mu":"0.3","azimuth":298,"value":0.114},{"mu":"0.3","azimuth":299.2,"value":0.110},{"mu":"0.3","azimuth":300.6,"value":0.113},{"mu":"0.3","azimuth":302,"value":0.115},{"mu":"0.3","azimuth":305,"value":0.113},{"mu":"0.3","azimuth":307.6,"value":0.111},{"mu":"0.3","azimuth":310,"value":0.113},{"mu":"0.3","azimuth":313,"value":0.118},{"mu":"0.3","azimuth":317.4,"value":0.128},{"mu":"0.3","azimuth":322,"value":0.140},{"mu":"0.3","azimuth":326.5,"value":0.155},{"mu":"0.3","azimuth":331,"value":0.172},{"mu":"0.3","azimuth":335.8,"value":0.190},{"mu":"0.3","azimuth":340.5,"value":0.207},{"mu":"0.3","azimuth":345.5,"value":0.224},{"mu":"0.3","azimuth":349,"value":0.234},{"mu":"0.3","azimuth":352,"value":0.240},{"mu":"0.3","azimuth":355,"value":0.238},{"mu":"0.3","azimuth":357.5,"value":0.230},{"mu":"0.3","azimuth":360,"value":0.220},
      {"mu":"0.4","azimuth":0,"value":0.262},{"mu":"0.4","azimuth":2,"value":0.250},{"mu":"0.4","azimuth":4,"value":0.236},{"mu":"0.4","azimuth":6,"value":0.224},{"mu":"0.4","azimuth":8.8,"value":0.206},{"mu":"0.4","azimuth":11,"value":0.196},{"mu":"0.4","azimuth":13,"value":0.190},{"mu":"0.4","azimuth":16.5,"value":0.184},{"mu":"0.4","azimuth":20,"value":0.179},{"mu":"0.4","azimuth":24,"value":0.171},{"mu":"0.4","azimuth":28.4,"value":0.164},{"mu":"0.4","azimuth":33,"value":0.160},{"mu":"0.4","azimuth":39,"value":0.156},{"mu":"0.4","azimuth":43,"value":0.153},{"mu":"0.4","azimuth":48,"value":0.150},{"mu":"0.4","azimuth":51.5,"value":0.145},{"mu":"0.4","azimuth":55,"value":0.139},{"mu":"0.4","azimuth":57.5,"value":0.134},{"mu":"0.4","azimuth":60,"value":0.128},{"mu":"0.4","azimuth":62.5,"value":0.119},{"mu":"0.4","azimuth":64.9,"value":0.110},{"mu":"0.4","azimuth":66.5,"value":0.107},{"mu":"0.4","azimuth":68.4,"value":0.102},{"mu":"0.4","azimuth":70,"value":0.095},{"mu":"0.4","azimuth":71.9,"value":0.086},{"mu":"0.4","azimuth":73,"value":0.078},{"mu":"0.4","azimuth":74,"value":0.070},{"mu":"0.4","azimuth":75,"value":0.062},{"mu":"0.4","azimuth":76,"value":0.059},{"mu":"0.4","azimuth":77.5,"value":0.062},{"mu":"0.4","azimuth":79,"value":0.062},{"mu":"0.4","azimuth":81,"value":0.055},{"mu":"0.4","azimuth":83,"value":0.043},{"mu":"0.4","azimuth":85,"value":0.025},{"mu":"0.4","azimuth":86.6,"value":0.001},{"mu":"0.4","azimuth":88,"value":-0.025},{"mu":"0.4","azimuth":89.4,"value":-0.049},{"mu":"0.4","azimuth":91,"value":-0.075},{"mu":"0.4","azimuth":93,"value":-0.100},{"mu":"0.4","azimuth":95,"value":-0.119},{"mu":"0.4","azimuth":97,"value":-0.135},{"mu":"0.4","azimuth":100,"value":-0.152},{"mu":"0.4","azimuth":103.4,"value":-0.164},{"mu":"0.4","azimuth":106,"value":-0.171},{"mu":"0.4","azimuth":109,"value":-0.175},{"mu":"0.4","azimuth":112,"value":-0.173},{"mu":"0.4","azimuth":116,"value":-0.166},{"mu":"0.4","azimuth":119.5,"value":-0.157},{"mu":"0.4","azimuth":123,"value":-0.148},{"mu":"0.4","azimuth":126.5,"value":-0.135},{"mu":"0.4","azimuth":130,"value":-0.121},{"mu":"0.4","azimuth":133.5,"value":-0.104},{"mu":"0.4","azimuth":137,"value":-0.087},{"mu":"0.4","azimuth":140.5,"value":-0.071},{"mu":"0.4","azimuth":144,"value":-0.055},{"mu":"0.4","azimuth":147,"value":-0.040},{"mu":"0.4","azimuth":150,"value":-0.025},{"mu":"0.4","azimuth":154,"value":-0.005},{"mu":"0.4","azimuth":158,"value":0.014},{"mu":"0.4","azimuth":162.5,"value":0.040},{"mu":"0.4","azimuth":167.5,"value":0.070},{"mu":"0.4","azimuth":172,"value":0.098},{"mu":"0.4","azimuth":177,"value":0.123},{"mu":"0.4","azimuth":181.5,"value":0.145},{"mu":"0.4","azimuth":186,"value":0.163},{"mu":"0.4","azimuth":190,"value":0.174},{"mu":"0.4","azimuth":193.3,"value":0.179},{"mu":"0.4","azimuth":196.5,"value":0.184},{"mu":"0.4","azimuth":200.3,"value":0.187},{"mu":"0.4","azimuth":204,"value":0.189},{"mu":"0.4","azimuth":207.3,"value":0.191},{"mu":"0.4","azimuth":211,"value":0.190},{"mu":"0.4","azimuth":214.3,"value":0.191},{"mu":"0.4","azimuth":217,"value":0.191},{"mu":"0.4","azimuth":219.2,"value":0.192},{"mu":"0.4","azimuth":220.3,"value":0.190},{"mu":"0.4","azimuth":221.3,"value":0.186},{"mu":"0.4","azimuth":224,"value":0.185},{"mu":"0.4","azimuth":228.4,"value":0.183},{"mu":"0.4","azimuth":230.5,"value":0.180},{"mu":"0.4","azimuth":233.3,"value":0.176},{"mu":"0.4","azimuth":236.5,"value":0.172},{"mu":"0.4","azimuth":240.3,"value":0.168},{"mu":"0.4","azimuth":245,"value":0.164},{"mu":"0.4","azimuth":249.4,"value":0.160},{"mu":"0.4","azimuth":254,"value":0.158},{"mu":"0.4","azimuth":258.6,"value":0.156},{"mu":"0.4","azimuth":264,"value":0.155},{"mu":"0.4","azimuth":270.5,"value":0.155},{"mu":"0.4","azimuth":275.3,"value":0.154},{"mu":"0.4","azimuth":280,"value":0.154},{"mu":"0.4","azimuth":284.5,"value":0.154},{"mu":"0.4","azimuth":287,"value":0.151},{"mu":"0.4","azimuth":289.4,"value":0.144},{"mu":"0.4","azimuth":291.5,"value":0.132},{"mu":"0.4","azimuth":293.6,"value":0.118},{"mu":"0.4","azimuth":296,"value":0.104},{"mu":"0.4","azimuth":298.5,"value":0.096},{"mu":"0.4","azimuth":300,"value":0.101},{"mu":"0.4","azimuth":301.5,"value":0.110},{"mu":"0.4","azimuth":303.4,"value":0.115},{"mu":"0.4","azimuth":306.5,"value":0.112},{"mu":"0.4","azimuth":310.4,"value":0.112},{"mu":"0.4","azimuth":314,"value":0.118},{"mu":"0.4","azimuth":316.5,"value":0.126},{"mu":"0.4","azimuth":319.5,"value":0.134},{"mu":"0.4","azimuth":324,"value":0.150},{"mu":"0.4","azimuth":328.6,"value":0.168},{"mu":"0.4","azimuth":332,"value":0.184},{"mu":"0.4","azimuth":335.8,"value":0.200},{"mu":"0.4","azimuth":339,"value":0.214},{"mu":"0.4","azimuth":342,"value":0.224},{"mu":"0.4","azimuth":346,"value":0.240},{"mu":"0.4","azimuth":350,"value":0.255},{"mu":"0.4","azimuth":355,"value":0.268},{"mu":"0.4","azimuth":360,"value":0.280}
    ],
    "notes": [
      {"azimuth": 104.5, "value": 0.1203, "label": "μ=0.15"},
      {"azimuth": 103.2, "value": -0.157, "label": "μ=0.4"}
    ],
    "arrow": [
      {"azimuth": 126.8, "value": 0.1028, "azimuth2": 99.2, "value2": -0.1388}
    ],
    "arrowhead": [
      {"azimuth": 98.1, "value": -0.1479}
    ]
  },
  "hconcat": [
    {
      "width": 534,
      "height": 533,
      "title": "Test",
      "encoding": {
        "x": {
          "field": "azimuth", "type": "quantitative",
          "scale": {"domain": [0, 360], "nice": false, "zero": false},
          "axis": {
            "title": null,
            "values": [0, 45, 90, 135, 180, 225, 270, 315, 360],
            "labelExpr": "datum.value % 90 === 0 ? '' + datum.value : ''",
            "labelFlush": false,
            "labelPadding": 10,
            "tickSize": {"condition": {"test": "datum.value % 90 === 0", "value": 14}, "value": 7},
            "grid": true,
            "gridColor": "#1a1a1a",
            "gridWidth": 1,
            "gridOpacity": {"condition": {"test": "datum.value % 90 === 0 && datum.value > 0 && datum.value < 360", "value": 1}, "value": 0}
          }
        },
        "y": {
          "field": "value", "type": "quantitative",
          "scale": {"domain": [-0.2, 0.225], "nice": false, "zero": false},
          "axis": {
            "title": "M²Cₙ",
            "titleFontSize": 24,
            "titleFontWeight": "bold",
            "titleColor": "black",
            "titlePadding": 8,
            "values": [-0.2, -0.18, -0.16, -0.14, -0.12, -0.1, -0.08, -0.06, -0.04, -0.02, 0, 0.02, 0.04, 0.06, 0.08, 0.1, 0.12, 0.14, 0.16, 0.18, 0.2, 0.22],
            "labelExpr": "abs(datum.value * 10 - round(datum.value * 10)) < 0.001 ? '' + datum.value : ''",
            "labelFontSize": {"condition": {"test": "abs(datum.value * 10 - round(datum.value * 10)) < 0.001", "value": 24}, "value": 1},
            "labelPadding": 4,
            "tickSize": {"condition": {"test": "abs(datum.value * 10 - round(datum.value * 10)) < 0.001", "value": 15}, "value": 7},
            "grid": true,
            "gridColor": {"condition": {"test": "abs(datum.value * 10 - round(datum.value * 10)) < 0.001", "value": "#1a1a1a"}, "value": "#c8c8c8"},
            "gridWidth": {"condition": {"test": "abs(datum.value * 10 - round(datum.value * 10)) < 0.001", "value": 1}, "value": 1.6}
          }
        }
      },
      "layer": [
        {
          "data": {"name": "test"},
          "mark": {"type": "line", "strokeWidth": 2, "clip": true, "interpolate": "monotone"},
          "encoding": {
            "color": {"field": "mu", "type": "nominal", "legend": null,
              "scale": {"domain": ["0.15", "0.2", "0.25", "0.3", "0.4"], "range": ["#000000", "#ee3322", "#3d5aad", "#0b8a3c", "#c563b5"]}}
          }
        },
        {
          "data": {"name": "arrow"},
          "mark": {"type": "rule", "strokeWidth": 3, "color": "black"},
          "encoding": {"x2": {"field": "azimuth2"}, "y2": {"field": "value2"}}
        },
        {
          "data": {"name": "arrowhead"},
          "mark": {"type": "point", "shape": "M0,1L-0.45,-1L0.45,-1Z", "filled": true, "size": 529, "angle": 7.7, "color": "black", "opacity": 1, "strokeWidth": 0}
        },
        {
          "data": {"name": "notes"},
          "mark": {"type": "text", "align": "left", "baseline": "alphabetic", "fontSize": 22, "font": "DejaVu Sans", "color": "black"},
          "encoding": {"text": {"field": "label"}}
        }
      ]
    },
    {
      "width": 535,
      "height": 533,
      "title": "Prediction",
      "data": {"name": "prediction"},
      "mark": {"type": "line", "strokeWidth": 2, "clip": true, "interpolate": "monotone"},
      "encoding": {
        "x": {
          "field": "azimuth", "type": "quantitative",
          "scale": {"domain": [0, 375], "nice": false, "zero": false},
          "axis": {
            "title": null,
            "values": [0, 45, 90, 135, 180, 225, 270, 315, 360, 374.4],
            "labelExpr": "datum.value % 90 === 0 ? '' + datum.value : ''",
            "labelFlush": false,
            "labelPadding": 10,
            "tickSize": {"condition": [{"test": "datum.value > 370", "value": 0}, {"test": "datum.value % 90 === 0", "value": 14}], "value": 7},
            "grid": true,
            "gridColor": {"condition": {"test": "datum.value === 360", "value": "#808080"}, "value": "#1a1a1a"},
            "gridWidth": {"condition": [{"test": "datum.value === 360", "value": 2.5}, {"test": "datum.value > 370", "value": 2}], "value": 1},
            "gridOpacity": {"condition": {"test": "(datum.value % 90 === 0 && datum.value > 0) || datum.value > 370", "value": 1}, "value": 0}
          }
        },
        "y": {
          "field": "value", "type": "quantitative",
          "scale": {"domain": [-0.2, 0.225], "nice": false, "zero": false},
          "axis": {
            "title": null,
            "labels": false,
            "ticks": false,
            "domain": false,
            "values": [-0.2, -0.18, -0.16, -0.14, -0.12, -0.1, -0.08, -0.06, -0.04, -0.02, 0, 0.02, 0.04, 0.06, 0.08, 0.1, 0.12, 0.14, 0.16, 0.18, 0.2, 0.22],
            "grid": true,
            "gridColor": {"condition": {"test": "abs(datum.value * 10 - round(datum.value * 10)) < 0.001", "value": "#1a1a1a"}, "value": "#c8c8c8"},
            "gridWidth": {"condition": {"test": "abs(datum.value * 10 - round(datum.value * 10)) < 0.001", "value": 1}, "value": 1.6}
          }
        },
        "color": {"field": "mu", "type": "nominal", "legend": null,
          "scale": {"domain": ["0.15", "0.2", "0.25", "0.3", "0.4"], "range": ["#000000", "#ee3322", "#3d5aad", "#0b8a3c", "#c563b5"]}}
      }
    }
  ]
}
